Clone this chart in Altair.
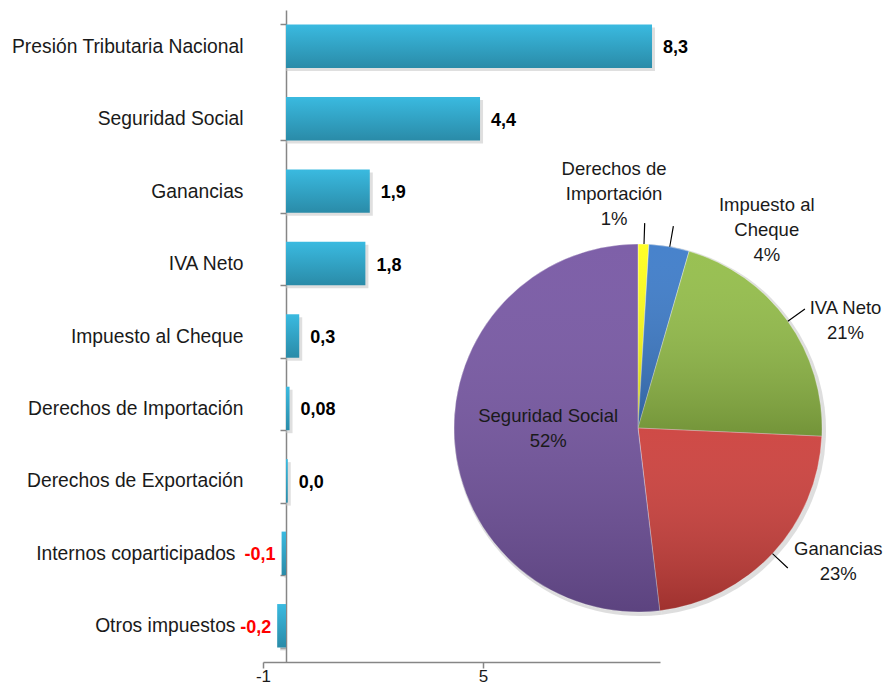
import altair as alt
import pandas as pd

# ---------------- data ----------------
categories = [
    "Presión Tributaria Nacional",
    "Seguridad Social",
    "Ganancias",
    "IVA Neto",
    "Impuesto al Cheque",
    "Derechos de Importación",
    "Derechos de Exportación",
    "Internos coparticipados",
    "Otros impuestos",
]
values = [8.3, 4.4, 1.9, 1.8, 0.3, 0.08, 0.04, -0.1, -0.2]
value_labels = ["8,3", "4,4", "1,9", "1,8", "0,3", "0,08", "0,0", "-0,1", "-0,2"]

pie_categories = ["Derechos de Importación", "Impuesto al Cheque", "IVA Neto", "Ganancias", "Seguridad Social"]
pie_values = [0.08, 0.3, 1.8, 1.9, 4.4]
pie_names = ["Derechos de\nImportación", "Impuesto al\nCheque", "IVA Neto", "Ganancias", "Seguridad Social"]
pie_percents = ["1%", "4%", "21%", "23%", "52%"]
pie_colors = ["#FFFF1A", "#3C7BC9", "#93BD48", "#CC3F3B", "#7656A3"]

axis_ticks = [-1, 5]

# ---------------- styling ----------------
FONT = "Liberation Sans"
TXT = "#1a1a1a"
AXC = "#868686"
W, H = 397, 652
CX, CY, R = 375, 418, 184

bars_df = pd.DataFrame({"cat": categories, "v": values, "lab": value_labels})
pie_df = pd.DataFrame({"cat": pie_categories, "v": pie_values, "name": pie_names,
                       "pct": pie_percents, "idx": list(range(len(pie_categories)))})

xs = alt.Scale(domain=[-0.5215, 8.481], nice=False, zero=False)
ys = alt.Scale(domain=categories, paddingInner=0.4, paddingOuter=0.2)

neg_test = "datum.value == 'Internos coparticipados' || datum.value == 'Otros impuestos'"
first_test = "datum.value == 'Presión Tributaria Nacional'"

base = alt.Chart(bars_df).encode(
    y=alt.Y("cat:N", sort=categories, scale=ys, title=None,
            axis=alt.Axis(offset=-23, domainColor=AXC, domainWidth=1.5, tickColor=AXC,
                          tickWidth=1.5, tickSize=6, tickBand="extent",
                          tickOpacity={"condition": {"test": first_test, "value": 0}, "value": 1},
                          labelPadding={"condition": {"test": neg_test, "value": 45}, "value": 37},
                          labelFont=FONT, labelFontSize=19.3, labelColor=TXT, labelLimit=400)),
)

bar_grad = alt.Gradient(gradient="linear", x1=0, x2=0, y1=0, y2=1,
                        stops=[alt.GradientStop(color="#3ABAE0", offset=0),
                               alt.GradientStop(color="#2A8BA8", offset=1)])

shadow = base.mark_bar(color="#C4C4C4", opacity=0.55, xOffset=3, yOffset=3).encode(
    x=alt.X("v:Q", scale=xs, axis=None), x2=alt.datum(0))
bars = base.mark_bar(color=bar_grad).encode(
    x=alt.X("v:Q", scale=xs, axis=None), x2=alt.datum(0))
pos_lab = base.transform_filter("datum.v >= 0").mark_text(
    align="left", baseline="middle", dx=11, dy=2, font=FONT, fontSize=18,
    fontWeight="bold", color="#000000").encode(x=alt.X("v:Q", scale=xs, axis=None), text="lab:N")
neg_lab = base.transform_filter("datum.v < 0").mark_text(
    align="right", baseline="middle", dx=-6, dy=2, font=FONT, fontSize=18,
    fontWeight="bold", color="#FF0000").encode(x=alt.X("v:Q", scale=xs, axis=None), text="lab:N")

bar_group = alt.layer(shadow, bars, pos_lab, neg_lab)

axis_layer = alt.Chart(pd.DataFrame({"t": axis_ticks})).mark_point(opacity=0).encode(
    x=alt.X("t:Q", scale=alt.Scale(domain=[-1, 9.83], nice=False, zero=False), title=None,
            axis=alt.Axis(orient="bottom", values=axis_ticks, grid=False, domainColor=AXC,
                          domainWidth=1.5, tickColor=AXC, tickWidth=1.5, tickSize=6,
                          labelFlush=False, labelFont=FONT, labelFontSize=17,
                          labelPadding=0, labelColor=TXT, labelExpr="datum.value + ''")))

# ---------------- pie ----------------
pie_base = alt.Chart(pie_df).transform_joinaggregate(
    total="sum(v)"
).transform_window(
    cum="sum(v)", sort=[alt.SortField("idx")], frame=[None, 0]
).transform_calculate(
    a0="2*PI*(datum.cum - datum.v)/datum.total",
    a1="2*PI*datum.cum/datum.total",
).transform_calculate(
    mid="(datum.a0 + datum.a1)/2",
    label="datum.name + '\\n' + datum.pct",
).transform_calculate(
    mid2="datum.mid + 0.006",
)

pie_shadow = pie_base.mark_arc(outerRadius=R + 2, color="#BDBDBD", opacity=0.5).encode(
    theta=alt.Theta("a0:Q", scale=None), theta2="a1:Q",
    x=alt.value(CX + 2), y=alt.value(CY + 2))

pie = pie_base.mark_arc(outerRadius=R, stroke="#ffffff", strokeOpacity=0.35, strokeWidth=1).encode(
    theta=alt.Theta("a0:Q", scale=None), theta2="a1:Q",
    color=alt.Color("cat:N", scale=alt.Scale(domain=pie_categories, range=pie_colors), legend=None),
    x=alt.value(CX), y=alt.value(CY))

shade = alt.Gradient(gradient="linear", x1=0, x2=0, y1=0, y2=1,
                     stops=[alt.GradientStop(color="rgba(255,255,255,0.06)", offset=0),
                            alt.GradientStop(color="rgba(0,0,0,0.22)", offset=1)])
pie_shade = pie_base.mark_arc(outerRadius=R, color=shade).encode(
    theta=alt.Theta("a0:Q", scale=None), theta2="a1:Q",
    x=alt.value(CX), y=alt.value(CY))

stubs = pie_base.transform_filter("datum.idx < 4").mark_arc(
    innerRadius=R, outerRadius=205, color="#000000").encode(
    theta=alt.Theta("mid:Q", scale=None), theta2="mid2:Q",
    x=alt.value(CX), y=alt.value(CY))


def pie_label(cat, radius, dx, dy):
    return pie_base.transform_filter(alt.datum.cat == cat).mark_text(
        radius=radius, dx=dx, dy=dy, align="center", baseline="middle", lineBreak="\n",
        lineHeight=25, font=FONT, fontSize=18.5, color=TXT).encode(
        theta=alt.Theta("mid:Q", scale=None), text="label:N",
        x=alt.value(CX), y=alt.value(CY))


labels = [
    pie_label("Derechos de Importación", 205, -30, -54),
    pie_label("Impuesto al Cheque", 205, 94, -21),
    pie_label("IVA Neto", 205, 41, 0),
    pie_label("Ganancias", 205, 50, -18),
    pie_label("Seguridad Social", 90, 0, -17),
]

chart = alt.layer(
    bar_group, axis_layer, pie_shadow, pie, pie_shade, stubs, *labels
).resolve_scale(
    x="independent"
).properties(
    width=W, height=H,
    padding={"left": 255, "top": 2, "right": 223, "bottom": 22},
    autosize=alt.AutoSizeParams(type="none"),
    background="#ffffff",
).configure_view(stroke=None)

chart.save("out.html", embed_options={"renderer": "svg", "actions": False})
